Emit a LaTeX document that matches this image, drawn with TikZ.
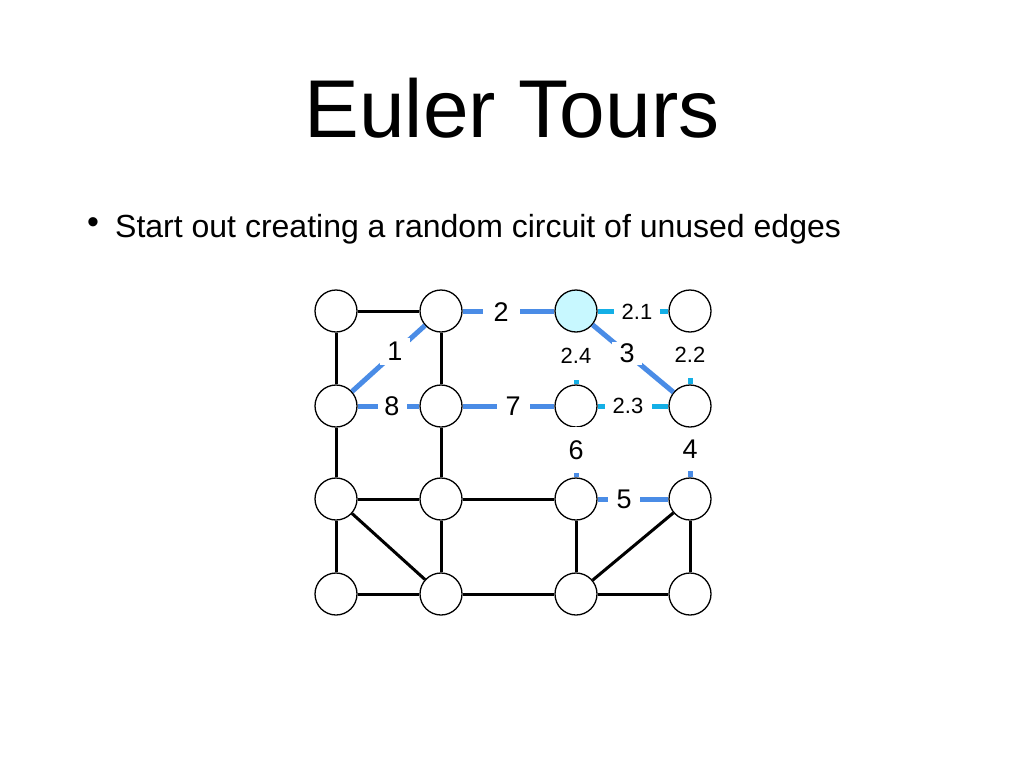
\documentclass[tikz,border=0pt]{standalone}
\usepackage{fontspec}
\setmainfont{Liberation Sans}
\definecolor{eblue}{RGB}{74,140,230}
\definecolor{ecyan}{RGB}{20,175,230}
\definecolor{hl}{RGB}{200,248,255}
\begin{document}
\begin{tikzpicture}[x=1pt,y=-1pt,
  vtx/.style={circle,draw=black,line width=1.3pt,fill=white,minimum size=42pt,inner sep=0pt},
  bk/.style={draw=black,line width=3pt},
  bl/.style={draw=eblue,line width=5pt},
  cy/.style={draw=ecyan,line width=5pt},
  lab/.style={fill=white,inner sep=0pt,font=\fontsize{27}{27}\selectfont},
  slab/.style={fill=white,inner sep=0pt,font=\fontsize{22}{22}\selectfont}]
\useasboundingbox (0,0) rectangle (1024,768);
\node[anchor=base,font=\fontsize{82}{82}\selectfont] (title) at (512,137) {Euler Tours};
\node[anchor=base,font=\fontsize{34}{34}\selectfont] (bul) at (93,233) {•};
\node[anchor=base west,font=\fontsize{32}{32}\selectfont,inner sep=0pt] (txt) at (115,237) {Start out creating a random circuit of unused edges};
% vertices
\node[vtx] (a0) at (336,311) {};
\node[vtx] (b0) at (441,311) {};
\node[vtx,fill=hl] (c0) at (576,311) {};
\node[vtx] (d0) at (690,311) {};
\node[vtx] (a1) at (336,406) {};
\node[vtx] (b1) at (441,406) {};
\node[vtx] (c1) at (576,406) {};
\node[vtx] (d1) at (690,406) {};
\node[vtx] (a2) at (336,499) {};
\node[vtx] (b2) at (441,499) {};
\node[vtx] (c2) at (576,499) {};
\node[vtx] (d2) at (690,499) {};
\node[vtx] (a3) at (336,594) {};
\node[vtx] (b3) at (441,594) {};
\node[vtx] (c3) at (576,594) {};
\node[vtx] (d3) at (690,594) {};
% black edges
\draw[bk] (a0) -- (b0);
\draw[bk] (a0) -- (a1);
\draw[bk] (b0) -- (b1);
\draw[bk] (a1) -- (a2);
\draw[bk] (b1) -- (b2);
\draw[bk] (a2) -- (b2);
\draw[bk] (b2) -- (c2);
\draw[bk] (a2) -- (a3);
\draw[bk] (a2) -- (b3);
\draw[bk] (b2) -- (b3);
\draw[bk] (a3) -- (b3);
\draw[bk] (b3) -- (c3);
\draw[bk] (c3) -- (d3);
\draw[bk] (c2) -- (c3);
\draw[bk] (d2) -- (c3);
\draw[bk] (d2) -- (d3);
% circuit edges
\draw[bl] (a1) -- (b0);
\draw[bl] (b0) -- (c0);
\draw[bl] (c0) -- (d1);
\draw[bl] (d1) -- (d2);
\draw[bl] (d2) -- (c2);
\draw[bl] (c2) -- (c1);
\draw[bl] (c1) -- (b1);
\draw[bl] (b1) -- (a1);
\draw[cy] (c0) -- (d0);
\draw[cy] (d0) -- (d1);
\draw[cy] (d1) -- (c1);
\draw[cy] (c1) -- (c0);
% labels
\node[lab,minimum width=30pt,minimum height=27pt] (l1) at (395,351) {1};
\node[lab,minimum width=37pt,minimum height=30pt] (l2) at (501,312) {2};
\node[lab,minimum width=30pt,minimum height=23pt] (l3) at (627,353) {3};
\node[lab,minimum width=30pt,minimum height=43pt] (l4) at (690,449) {4};
\node[lab,minimum width=32pt,minimum height=30pt] (l5) at (624,499) {5};
\node[lab,minimum width=30pt,minimum height=46pt] (l6) at (576,450) {6};
\node[lab,minimum width=33pt,minimum height=30pt] (l7) at (513,406) {7};
\node[lab,minimum width=29pt,minimum height=30pt] (l8) at (392,406) {8};
\node[slab,minimum width=46pt,minimum height=26pt] (l21) at (637,312) {2.1};
\node[slab,minimum width=40pt,minimum height=45pt] (l22) at (690,355) {2.2};
\node[slab,minimum width=47pt,minimum height=26pt] (l23) at (628,406) {2.3};
\node[slab,minimum width=40pt,minimum height=47pt] (l24) at (576,356) {2.4};
\end{tikzpicture}
\end{document}
